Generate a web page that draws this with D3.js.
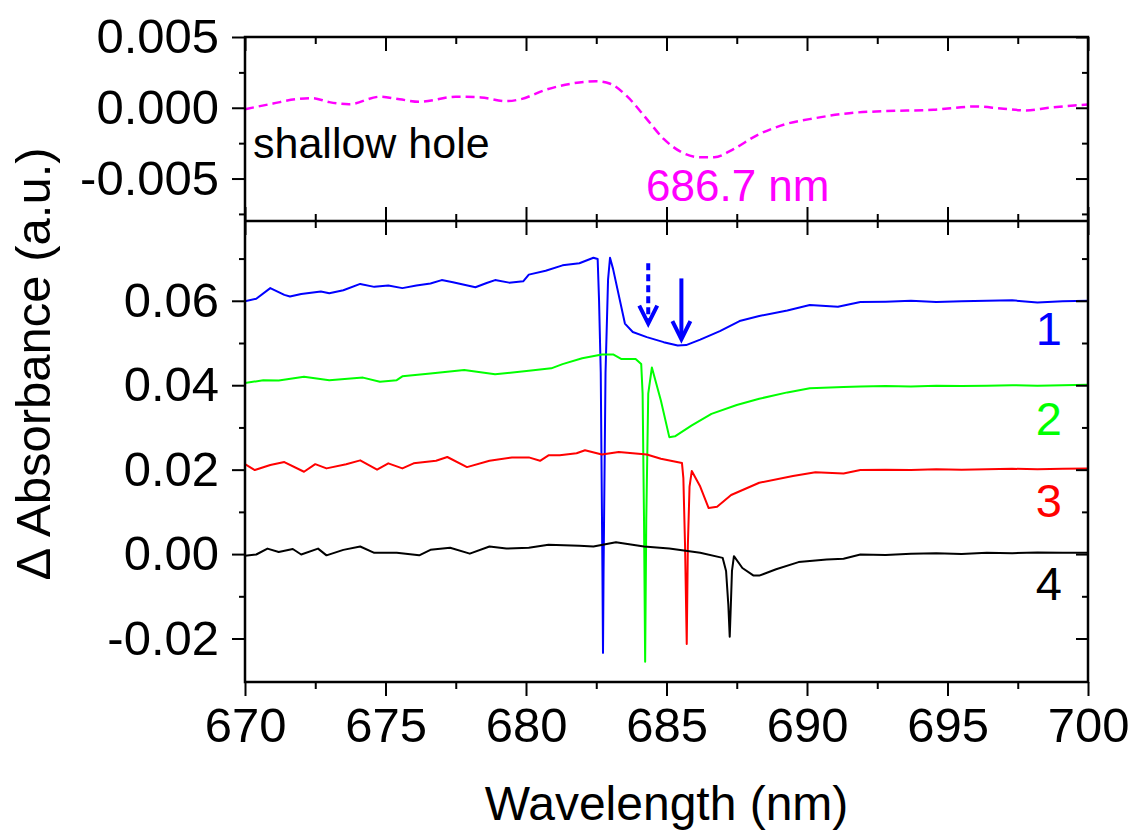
<!DOCTYPE html>
<html><head><meta charset="utf-8">
<script src="https://cdn.jsdelivr.net/npm/d3@7"></script>
<style>
html,body{margin:0;padding:0;background:#fff;}
text{font-family:"Liberation Sans",Arial,Helvetica,sans-serif;}
</style></head>
<body><svg id="chart" width="1133" height="834"></svg>
<script>
// ---------- data ----------
const xTicksMajor = [670, 675, 680, 685, 690, 695, 700];
const xTicksMinor = [672.5, 677.5, 682.5, 687.5, 692.5, 697.5];
const yTopTicksMajor = [-0.005, 0.000, 0.005];
const yTopTicksMinor = [-0.0075, -0.0025, 0.0025];
const yBotTicksMajor = [-0.02, 0.00, 0.02, 0.04, 0.06];
const yBotTicksMinor = [-0.01, 0.01, 0.03, 0.05, 0.07];
const yBotLabels = ["-0.02", "0.00", "0.02", "0.04", "0.06"];

const holeX = [670.0,671.0,671.8,672.4,673.0,673.7,674.8,675.5,676.2,677.5,678.4,679.3,679.8,680.7,681.6,682.5,683.0,683.6,684.3,684.9,685.5,686.2,686.7,687.4,688.2,689.2,690.3,691.5,692.7,694.5,696.0,696.9,697.8,698.6,699.5,700.0];
const holeY = [-0.0001,0.0003,0.0006,0.00068,0.0004,0.00025,0.00078,0.0006,0.00042,0.00078,0.00073,0.00047,0.0006,0.00127,0.0017,0.00188,0.0017,0.0008,-0.0008,-0.0022,-0.0031,-0.0035,-0.0035,-0.0029,-0.00196,-0.00118,-0.00073,-0.00038,-0.00024,-0.00014,0.00009,-0.00005,-0.00019,0.0,0.00016,0.00023];

const s1X = [670.0,670.4,670.9,671.4,671.6,672.0,672.7,673.0,673.5,674.1,674.6,675.1,675.6,676.1,676.6,677.0,677.4,677.8,678.2,678.6,678.9,679.4,679.9,680.1,680.7,681.3,681.9,682.4,682.55,682.6,682.66,682.72,682.74,682.76,682.83,682.92,682.99,683.1,683.52,683.8,684.3,684.9,685.4,685.7,686.2,686.9,687.6,688.3,689.3,690.1,691.1,691.9,692.8,693.7,694.6,695.5,696.4,697.3,698.2,699.1,700.0];
const s1Y = [0.0599,0.0605,0.0630,0.0614,0.0610,0.0616,0.0622,0.0618,0.0625,0.0640,0.0633,0.0636,0.0630,0.0636,0.0641,0.0649,0.0644,0.0638,0.0632,0.0642,0.0649,0.0643,0.0646,0.0662,0.0671,0.0684,0.0689,0.0702,0.0699,0.0600,0.0430,-0.0040,-0.0234,-0.0040,0.0430,0.0650,0.0702,0.0675,0.0546,0.0526,0.0514,0.0502,0.0494,0.0495,0.0508,0.0528,0.0552,0.0564,0.0577,0.0590,0.0586,0.0597,0.0598,0.0600,0.0597,0.0599,0.0600,0.0601,0.0596,0.0599,0.0600];

const s2X = [670.0,670.65,671.2,672.1,673.0,674.2,674.8,675.4,675.6,676.6,677.8,678.9,680.1,680.9,681.3,682.0,682.7,683.1,683.4,683.9,684.1,684.15,684.2,684.24,684.28,684.35,684.48,684.8,685.1,685.3,685.9,686.6,687.5,688.3,689.3,690.1,691.3,691.9,692.8,693.7,694.6,695.5,696.4,697.3,698.2,699.1,700.0];
const s2Y = [0.0405,0.0412,0.0411,0.0420,0.0412,0.0418,0.0408,0.0412,0.0421,0.0428,0.0436,0.0426,0.0434,0.0440,0.0450,0.0464,0.0473,0.0473,0.0462,0.0462,0.0450,0.0380,0.0080,-0.0255,0.0080,0.0380,0.0442,0.0364,0.0277,0.0279,0.0305,0.0332,0.0353,0.0368,0.0383,0.0393,0.0396,0.0397,0.0398,0.0397,0.0399,0.0398,0.0399,0.0400,0.0399,0.0400,0.0401];

const s3X = [670.0,670.35,670.9,671.4,672.1,672.5,672.9,673.6,674.1,674.7,675.1,675.6,676.0,676.8,677.2,677.9,678.7,679.5,680.1,680.5,680.8,681.2,681.8,682.1,682.7,683.3,684.3,684.8,685.55,685.6,685.66,685.72,685.76,685.82,685.9,686.2,686.5,686.8,687.3,688.3,689.5,690.3,691.3,691.9,692.8,693.7,694.6,695.5,696.4,697.3,698.2,699.1,700.0];
const s3Y = [0.0213,0.0199,0.0211,0.0218,0.0195,0.0213,0.0203,0.0213,0.0222,0.0200,0.0215,0.0203,0.0215,0.0221,0.0230,0.0206,0.0221,0.0229,0.0229,0.0221,0.0234,0.0234,0.0239,0.0246,0.0236,0.0242,0.0236,0.0226,0.0216,0.0180,0.0020,-0.0213,0.0020,0.0160,0.0197,0.0160,0.0109,0.0112,0.0140,0.0169,0.0185,0.0194,0.0191,0.0199,0.0200,0.0199,0.0201,0.0200,0.0201,0.0202,0.0201,0.0202,0.0203];

const s4X = [670.0,670.4,670.8,671.2,671.7,672.0,672.6,672.9,673.5,674.1,674.6,675.4,676.2,676.6,677.3,678.0,678.7,679.3,680.1,680.8,681.9,682.4,683.2,684.2,685.1,686.2,687.0,687.12,687.2,687.25,687.29,687.33,687.4,687.7,688.1,688.3,688.9,689.7,690.7,691.3,691.9,692.8,693.7,694.6,695.5,696.4,697.3,698.2,699.1,700.0];
const s4Y = [-0.0004,-0.0001,0.0013,0.0005,0.0012,-0.0001,0.0013,-0.0003,0.0010,0.0018,0.0003,0.0003,-0.0003,0.0010,0.0015,0.0001,0.0018,0.0013,0.0015,0.0022,0.0020,0.0018,0.0028,0.0018,0.0013,0.0003,-0.0009,-0.0040,-0.0120,-0.0196,-0.0120,-0.0040,-0.0005,-0.0033,-0.0051,-0.0051,-0.0036,-0.0019,-0.0013,-0.0011,-0.0001,-0.0002,0.0001,0.0002,0.0000,0.0003,0.0002,0.0004,0.0003,0.0003];

const seriesNames = ["1", "2", "3", "4"];
const seriesColors = ["#0000ff", "#00ff00", "#ff0000", "#000000"];
// arrows: wavelength, start value, tip value
const arrowX = [684.35, 685.53];
const arrowFrom = [0.0689, 0.0653];
const arrowTo = [0.0546, 0.0509];
const arrowDashed = [true, false];

// ---------- layout ----------
const L = 245, R = 1088, T1 = 37, B1 = 221, T2 = 221, B2 = 682;
const svg = d3.select("#chart");
const x = d3.scaleLinear().domain([670, 700]).range([L, R]);
const yTop = d3.scaleLinear().domain([-0.008, 0.005]).range([B1, T1]);
const yBot = d3.scaleLinear().domain([-0.0303, 0.0789]).range([B2, T2]);

function styleAxis(g) {
  g.select(".domain").remove();
  g.selectAll("line").attr("stroke", "#000").attr("stroke-width", 2);
  g.selectAll("text").attr("fill", "#000").style("font-size", "49px");
}
function addAxis(axis, tx, ty) {
  svg.append("g").attr("transform", `translate(${tx},${ty})`).call(axis).call(styleAxis);
}

// curves (drawn first, frame on top)
const lineTop = d3.line().x((d, i) => x(holeX[i])).y(d => yTop(d)).curve(d3.curveMonotoneX);
svg.append("path").datum(holeY).attr("d", lineTop).attr("fill", "none")
  .attr("stroke", "#ff00ff").attr("stroke-width", 2.5).attr("stroke-dasharray", "9,5");

const allX = [s1X, s2X, s3X, s4X], allY = [s1Y, s2Y, s3Y, s4Y];
allY.forEach((ys, k) => {
  const xs = allX[k];
  const ln = d3.line().x((d, i) => x(xs[i])).y(d => yBot(d));
  svg.append("path").datum(ys).attr("d", ln).attr("fill", "none")
    .attr("stroke", seriesColors[k]).attr("stroke-width", 2).attr("stroke-linejoin", "round");
});

// arrows
arrowX.forEach((ax, k) => {
  const px = x(ax), y0 = yBot(arrowFrom[k]), y1 = yBot(arrowTo[k]);
  svg.append("line").attr("x1", px).attr("x2", px).attr("y1", y0).attr("y2", y1 - 4)
    .attr("stroke", "#0000ff").attr("stroke-width", 4)
    .attr("stroke-dasharray", arrowDashed[k] ? "7,4" : null);
  svg.append("path").attr("d", `M${px - 9},${y1 - 18} L${px},${y1} L${px + 9},${y1 - 18}`)
    .attr("fill", "none").attr("stroke", "#0000ff").attr("stroke-width", 4).attr("stroke-linejoin", "miter");
});

// frame
svg.append("rect").attr("x", L).attr("y", T1).attr("width", R - L).attr("height", B2 - T1)
  .attr("fill", "none").attr("stroke", "#000").attr("stroke-width", 2.5);
svg.append("line").attr("x1", L).attr("x2", R).attr("y1", B1).attr("y2", B1)
  .attr("stroke", "#000").attr("stroke-width", 2.5);

// left axes
addAxis(d3.axisLeft(yTop).tickValues(yTopTicksMajor).tickSize(13).tickPadding(13)
  .tickFormat(d => d.toFixed(3)), L, 0);
addAxis(d3.axisLeft(yTop).tickValues(yTopTicksMinor).tickSize(6).tickFormat(""), L, 0);
addAxis(d3.axisLeft(yBot).tickValues(yBotTicksMajor).tickSize(13).tickPadding(13)
  .tickFormat((d, i) => yBotLabels[i]), L, 0);
addAxis(d3.axisLeft(yBot).tickValues(yBotTicksMinor).tickSize(6).tickFormat(""), L, 0);
// right axes (inward)
addAxis(d3.axisLeft(yTop).tickValues(yTopTicksMajor).tickSize(12).tickFormat(""), R, 0);
addAxis(d3.axisLeft(yTop).tickValues(yTopTicksMinor).tickSize(6).tickFormat(""), R, 0);
addAxis(d3.axisLeft(yBot).tickValues(yBotTicksMajor).tickSize(12).tickFormat(""), R, 0);
addAxis(d3.axisLeft(yBot).tickValues(yBotTicksMinor).tickSize(6).tickFormat(""), R, 0);
// top edge (inward), middle edges (inward)
addAxis(d3.axisBottom(x).tickValues(xTicksMajor).tickSize(14).tickFormat(""), 0, T1);
addAxis(d3.axisBottom(x).tickValues(xTicksMinor).tickSize(7).tickFormat(""), 0, T1);
addAxis(d3.axisTop(x).tickValues(xTicksMajor).tickSize(14).tickFormat(""), 0, B1);
addAxis(d3.axisTop(x).tickValues(xTicksMinor).tickSize(7).tickFormat(""), 0, B1);
addAxis(d3.axisBottom(x).tickValues(xTicksMajor).tickSize(14).tickFormat(""), 0, T2);
addAxis(d3.axisBottom(x).tickValues(xTicksMinor).tickSize(7).tickFormat(""), 0, T2);
// bottom axis (outward)
addAxis(d3.axisBottom(x).tickValues(xTicksMajor).tickSize(14).tickPadding(11)
  .tickFormat(d3.format("d")), 0, B2);
addAxis(d3.axisBottom(x).tickValues(xTicksMinor).tickSize(7).tickFormat(""), 0, B2);

// titles
svg.append("text").attr("x", (L + R) / 2).attr("y", 820).attr("text-anchor", "middle")
  .style("font-size", "48px").text("Wavelength (nm)");
svg.append("text").attr("transform", "translate(50,364) rotate(-90)").attr("text-anchor", "middle")
  .style("font-size", "49px").text("\u0394 Absorbance (a.u.)");

// annotations
svg.append("text").attr("x", 253).attr("y", 158).style("font-size", "43px").attr("fill", "#000").text("shallow hole");
svg.append("text").attr("x", 646).attr("y", 201).style("font-size", "44px").attr("fill", "#ff00ff").text("686.7 nm");
const labelY = [345, 435, 517, 600];
seriesNames.forEach((n, k) => {
  svg.append("text").attr("x", 1062).attr("y", labelY[k]).attr("text-anchor", "end")
    .style("font-size", "47px").attr("fill", seriesColors[k]).text(n);
});
</script></body></html>
